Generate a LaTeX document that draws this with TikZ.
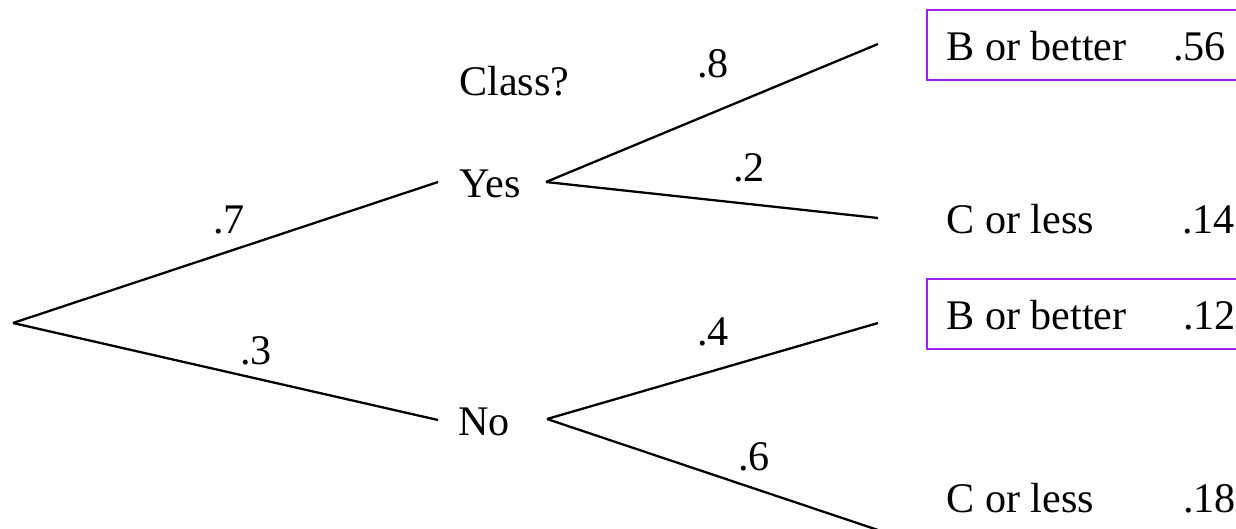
\documentclass[tikz,border=0pt]{standalone}
\usepackage{fontspec}
\setmainfont{Liberation Serif}
\definecolor{boxpurple}{RGB}{160,32,240}
\tikzset{
  branch/.style={line width=1.3pt, black},
  lbl/.style={anchor=base west, inner sep=0pt, font=\fontsize{24pt}{28pt}\selectfont},
  outbox/.style={draw=boxpurple, line width=1.3pt, anchor=north west, minimum width=6.5cm, minimum height=1.4cm, inner sep=0pt}
}
\begin{document}
\begin{tikzpicture}[x=0.02cm,y=-0.02cm]
\useasboundingbox (0,0) rectangle (1236,528);
\clip (0,0) rectangle (1236,528);
% boxes
\node[outbox] (box1) at (926,9) {};
\node[outbox] (box2) at (926,278) {};
% coordinates
\coordinate (root) at (13,323);
\coordinate (yesin) at (438,182);
\coordinate (yesout) at (546,182);
\coordinate (noin) at (438,420);
\coordinate (noout) at (547,419);
\coordinate (e1) at (878,44);
\coordinate (e2) at (878,218);
\coordinate (e3) at (878,323);
\coordinate (e4) at (878,530);
% connectors
\draw[branch] (root) -- (yesin);
\draw[branch] (root) -- (noin);
\draw[branch] (yesout) -- (e1);
\draw[branch] (yesout) -- (e2);
\draw[branch] (noout) -- (e3);
\draw[branch] (noout) -- (e4);
% labels
\node[lbl] (yes) at (459,197) {Yes};
\node[lbl] (no) at (458,435) {No};
\node[lbl] (class) at (459,95) {Class?};
\node[lbl] (p7) at (213,233) {.7};
\node[lbl] (p3) at (240,364) {.3};
\node[lbl] (p8) at (697,77) {.8};
\node[lbl] (p2) at (733,181) {.2};
\node[lbl] (p4) at (697,345) {.4};
\node[lbl] (p6) at (738,470) {.6};
\node[lbl] (t1) at (946,60) {B or better};
\node[lbl] (v1) at (1173,60) {.56};
\node[lbl] (t2) at (946,233) {C or less};
\node[lbl] (v2) at (1182,233) {.14};
\node[lbl] (t3) at (946,329) {B or better};
\node[lbl] (v3) at (1183,329) {.12};
\node[lbl] (t4) at (946,512) {C or less};
\node[lbl] (v4) at (1183,512) {.18};
\end{tikzpicture}
\end{document}
